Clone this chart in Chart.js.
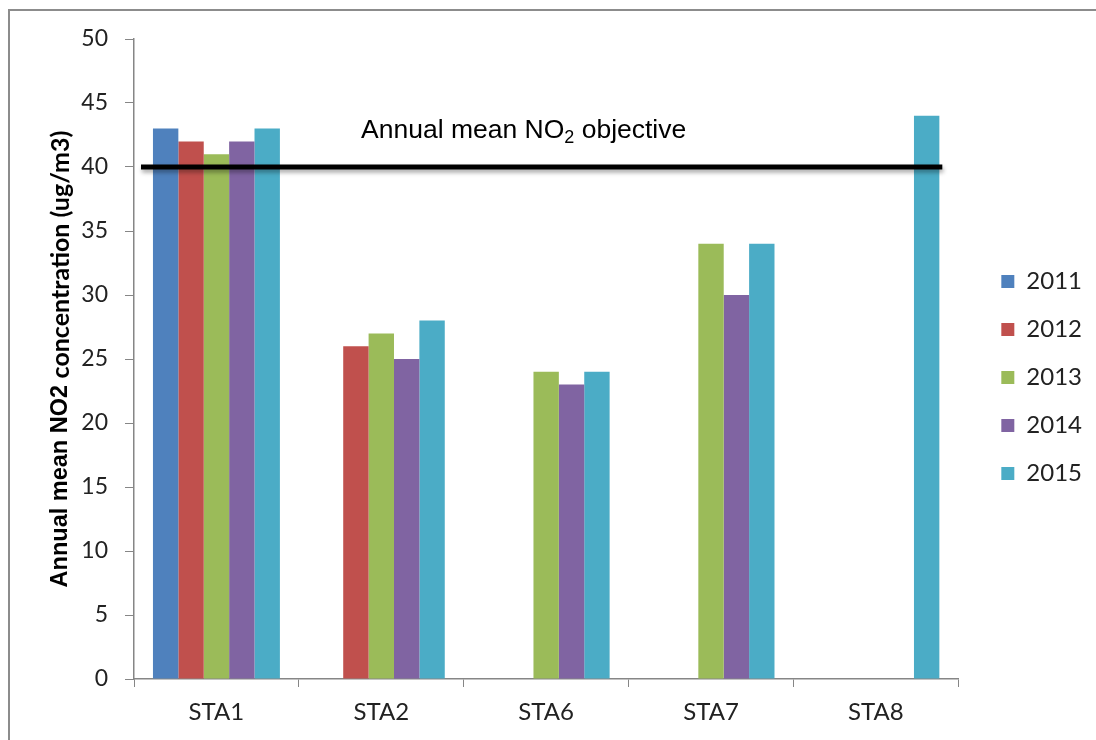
<!DOCTYPE html>
<html lang="en">
<head>
    <meta charset="UTF-8">
    <title>Annual mean NO2</title>
    <script src="https://cdn.jsdelivr.net/npm/chart.js"></script>
    <style>
        html, body { margin: 0; padding: 0; background: #fff; overflow: hidden; }
        .wrap { position: relative; width: 1096px; height: 740px; }
        .frame { position: absolute; left: 8px; top: 9px; width: 1200px; height: 900px; border: 2px solid #8c8c8c; }
        canvas { position: absolute; left: 0; top: 0; }
    </style>
</head>
<body>
    <div class="wrap">
        <div class="frame"></div>
        <canvas id="myChart" width="1096" height="740"></canvas>
    </div>
    <script>
        // chart data
        const stations = ['STA1', 'STA2', 'STA6', 'STA7', 'STA8'];
        const years = ['2011', '2012', '2013', '2014', '2015'];
        const no2_2011 = [43, null, null, null, null];
        const no2_2012 = [42, 26, null, null, null];
        const no2_2013 = [41, 27, 24, 34, null];
        const no2_2014 = [42, 25, 23, 30, null];
        const no2_2015 = [43, 28, 24, 34, 44];
        const yTicks = [0, 5, 10, 15, 20, 25, 30, 35, 40, 45, 50];
        const objective = 40;
        const objectiveLabel = ['Annual mean NO', '2', ' objective'];
        const yTitle = ['Annual mean NO2 ', 'concentration (ug/m3)'];

        const colors = ['#4F81BD', '#C0504D', '#9BBB59', '#8064A2', '#4BACC6'];
        const series = [no2_2011, no2_2012, no2_2013, no2_2014, no2_2015];

        // black objective line + its label
        const objectivePlugin = {
            id: 'objective',
            afterDatasetsDraw(chart) {
                const ctx = chart.ctx;
                const area = chart.chartArea;
                const y = chart.scales.y.getPixelForValue(objective);
                ctx.save();
                ctx.shadowColor = 'rgba(0,0,0,0.35)';
                ctx.shadowBlur = 4;
                ctx.shadowOffsetX = 1;
                ctx.shadowOffsetY = 3;
                ctx.strokeStyle = '#000';
                ctx.lineWidth = 5;
                ctx.beginPath();
                ctx.moveTo(area.left + 7, y);
                ctx.lineTo(area.right - 16, y);
                ctx.stroke();
                ctx.restore();

                ctx.save();
                ctx.fillStyle = '#000';
                ctx.textBaseline = 'alphabetic';
                let x = area.left + 227;
                const base = y - 29;
                ctx.font = '26.5px "Liberation Sans"';
                ctx.fillText(objectiveLabel[0], x, base);
                x += ctx.measureText(objectiveLabel[0]).width;
                ctx.font = '18px "Liberation Sans"';
                ctx.fillText(objectiveLabel[1], x, base + 5);
                x += ctx.measureText(objectiveLabel[1]).width;
                ctx.font = '26.5px "Liberation Sans"';
                ctx.fillText(objectiveLabel[2], x, base);
                ctx.restore();
            }
        };

        // y title in two fonts, like the original
        const yTitlePlugin = {
            id: 'ytitle',
            afterDraw(chart) {
                const ctx = chart.ctx;
                const area = chart.chartArea;
                const f1 = 'bold 23.5px "Liberation Sans"';
                const f2 = 'bold 25px Lato';
                ctx.save();
                ctx.translate(61, (area.top + area.bottom) / 2);
                ctx.rotate(-Math.PI / 2);
                ctx.fillStyle = '#000';
                ctx.textBaseline = 'middle';
                ctx.font = f1;
                const w1 = ctx.measureText(yTitle[0]).width;
                ctx.font = f2;
                const w2 = ctx.measureText(yTitle[1]).width;
                const x = -(w1 + w2) / 2;
                ctx.font = f1;
                ctx.fillText(yTitle[0], x, 0);
                ctx.font = f2;
                ctx.fillText(yTitle[1], x + w1, 0);
                ctx.restore();
            }
        };

        const ctx = document.getElementById('myChart').getContext('2d');
        const myChart = new Chart(ctx, {
            type: 'bar',
            data: {
                labels: stations,
                datasets: years.map((yr, i) => ({
                    label: yr,
                    data: series[i],
                    backgroundColor: colors[i],
                    borderWidth: 0,
                    barPercentage: 1,
                    categoryPercentage: 0.77
                }))
            },
            options: {
                responsive: false,
                animation: false,
                layout: { padding: { top: 39, right: 4, left: 0, bottom: 0 } },
                plugins: {
                    legend: {
                        position: 'right',
                        fullSize: false,
                        // blank title only nudges the items down
                        title: { display: true, text: ' ', font: { size: 10 }, padding: { top: 25, bottom: 0 } },
                        labels: {
                            boxWidth: 13,
                            boxHeight: 13,
                            padding: 24,
                            color: '#222',
                            font: { family: 'Lato', size: 24 }
                        }
                    },
                    tooltip: { enabled: false }
                },
                scales: {
                    x: {
                        grid: { drawOnChartArea: false, drawTicks: true, tickLength: 8, color: '#868686', offset: true },
                        border: { color: '#868686', width: 1.5 },
                        ticks: { padding: 11, color: '#222', font: { family: 'Lato', size: 24 } },
                        afterFit(scale) { scale.height = 61; }
                    },
                    y: {
                        min: 0,
                        max: 50,
                        afterBuildTicks(scale) { scale.ticks = yTicks.map(v => ({ value: v })); },
                        grid: { drawOnChartArea: false, drawTicks: true, tickLength: 9, color: '#868686' },
                        border: { color: '#868686', width: 1.5 },
                        ticks: { padding: 17, color: '#222', font: { family: 'Lato', size: 23 } },
                        afterFit(scale) { scale.width = 134; }
                    },
                    // empty spacer between plot and legend
                    gap: {
                        type: 'linear',
                        position: 'right',
                        grid: { display: false },
                        border: { display: false },
                        ticks: { display: false },
                        afterFit(scale) { scale.width = 19; }
                    }
                }
            },
            plugins: [objectivePlugin, yTitlePlugin]
        });
    </script>
</body>
</html>
